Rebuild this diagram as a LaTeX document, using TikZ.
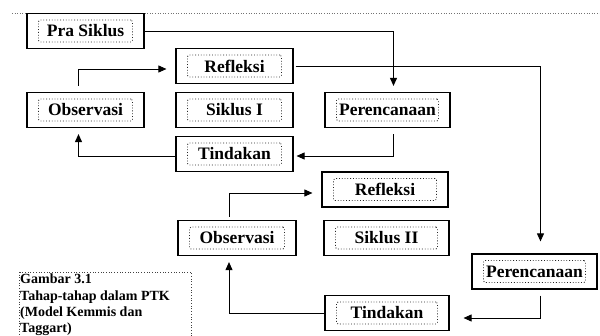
\documentclass[tikz,border=0pt]{standalone}
\usepackage{fontspec}
\setmainfont{Liberation Serif}
\usetikzlibrary{arrows.meta}
\tikzset{
	outerbox/.style={draw=black, line width=1.2pt, minimum height=35pt, inner sep=0pt},
	innerbox/.style={draw=black!85, dotted, line width=0.8pt, rounded corners=1.5pt, minimum height=22pt, inner sep=1pt, font=\fontsize{17.5pt}{20pt}\selectfont\bfseries},
	arrow/.style={line width=0.9pt, -{Triangle[length=8pt,width=7pt]}},
	caption/.style={align=left, inner sep=0pt, font=\fontsize{14pt}{16.3pt}\selectfont\bfseries},
	capframe/.style={draw=black!75, dotted, line width=0.7pt}
}
\newcommand{\stagebox}[4]{%
	\node[outerbox, minimum width=#3pt] (#1) at (#2) {};
	\node[innerbox, minimum width=#3pt-23pt] (#1-in) at (#1) {#4};
}

\begin{document}
\begin{tikzpicture}[x=1pt, y=-1pt]
		%%%%% START %%%%%
		
		\path[use as bounding box, fill=white] (0, 0) rectangle (600, 336);
		\clip (0, 0) rectangle (600, 336);
		
		\draw[black!55, dotted, line width=0.6pt] (12, 13) -- (600, 13);
		
		% siklus I
		\stagebox{pra}{85.5, 31}{117}{Pra Siklus}
		\stagebox{ref1}{234.5, 66}{117}{Refleksi}
		\stagebox{obs1}{85.5, 110}{117}{Observasi}
		\stagebox{sik1}{234.5, 110}{117}{Siklus I}
		\stagebox{per1}{387.5, 110}{125}{Perencanaan}
		\stagebox{tin1}{234.5, 154}{117}{Tindakan}
		
		% siklus II
		\stagebox{ref2}{385, 189.5}{126}{Refleksi}
		\stagebox{obs2}{237, 238}{118}{Observasi}
		\stagebox{sik2}{386.5, 238}{125}{Siklus II}
		\stagebox{per2}{534.5, 271.5}{125}{Perencanaan}
		\stagebox{tin2}{387, 313}{124}{Tindakan}
		
		\draw[arrow, shorten >=6pt] (pra.east) -| ([xshift=6pt]per1.north);
		\draw[arrow, shorten <=6pt, shorten >=3pt] ([xshift=6pt]per1.south) |- ([yshift=-2pt]tin1.east);
		\draw[arrow, shorten >=6pt] ([yshift=-2pt]tin1.west) -| ([xshift=-7pt]obs1.south);
		\draw[arrow, shorten <=6pt, shorten >=9pt] ([xshift=-7pt]obs1.north) |- ([yshift=-3pt]ref1.west);
		\draw[arrow, shorten <=2pt, shorten >=12pt] (ref1.east) -| ([xshift=6pt]per2.north);
		
		\draw[arrow, shorten <=6pt, shorten >=14pt] ([xshift=5.5pt]per2.south) |- ([yshift=-5pt]tin2.east);
		\draw[arrow, shorten >=6pt] (tin2.west) -| ([xshift=-8pt]obs2.south);
		\draw[arrow, shorten <=3pt, shorten >=9pt] ([xshift=-8pt]obs2.north) |- ([yshift=-3.5pt]ref2.west);
		
		\draw[capframe] (19, 272) rectangle (191, 345);
		\node[caption, anchor=north west] (cap) at (20, 274) {Gambar 3.1\\Tahap-tahap dalam PTK\\(Model Kemmis dan\\Taggart)};
		
		%%%%% END %%%%%
	\end{tikzpicture}
\end{document}
